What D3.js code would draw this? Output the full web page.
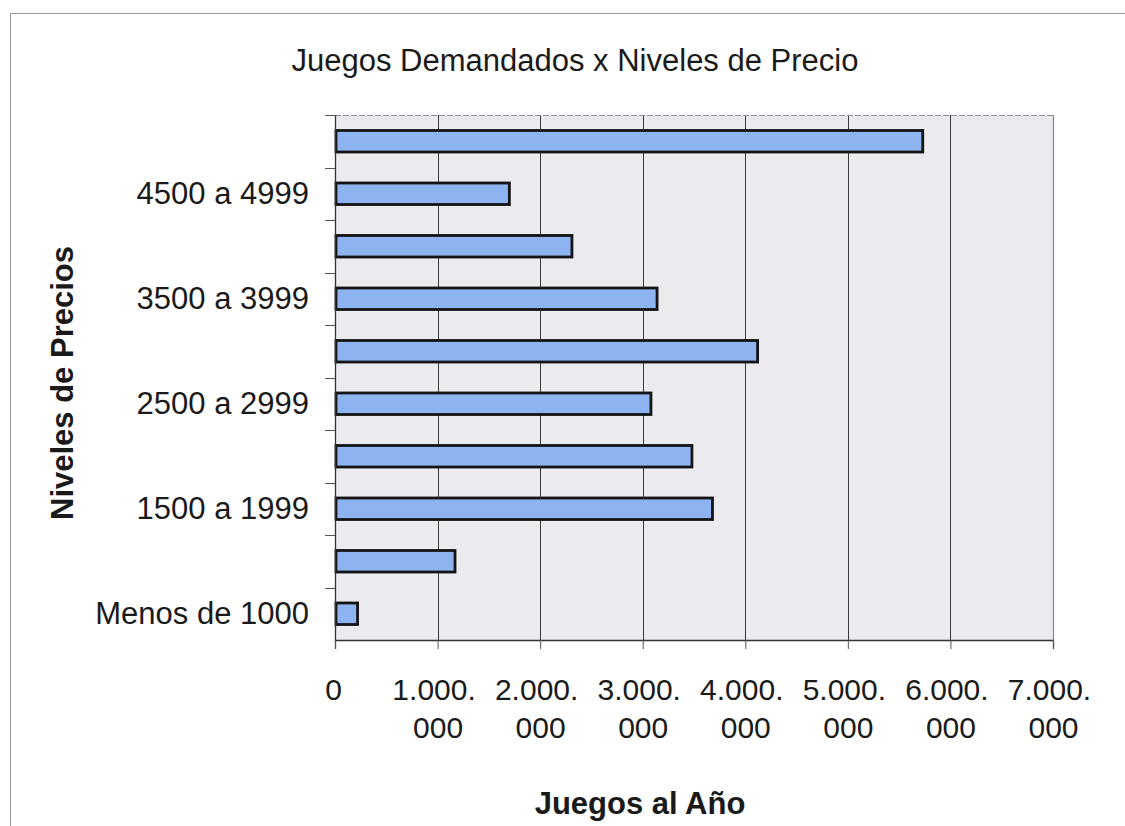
<!DOCTYPE html>
<html>
<head>
<meta charset="utf-8">
<script src="https://cdn.jsdelivr.net/npm/d3@7"></script>
<style>
  html, body { margin: 0; padding: 0; background: #fff; }
  svg { display: block; font-family: "Liberation Sans", Arial, sans-serif; }
</style>
</head>
<body>
<svg id="chart" width="1125" height="826"></svg>
<script>
// ---- data ----
const categories = ["Menos de 1000", "1000 a 1499", "1500 a 1999", "2000 a 2499", "2500 a 2999",
                    "3000 a 3499", "3500 a 3999", "4000 a 4499", "4500 a 4999", "5000 a 5499"];
const values = [220000, 1170000, 3680000, 3480000, 3080000, 4120000, 3140000, 2310000, 1700000, 5730000];
const shownLabels = ["Menos de 1000", "1500 a 1999", "2500 a 2999", "3500 a 3999", "4500 a 4999"];
const xTickValues = [0, 1000000, 2000000, 3000000, 4000000, 5000000, 6000000, 7000000];
const xTickLabels = [["0"], ["1.000.", "000"], ["2.000.", "000"], ["3.000.", "000"], ["4.000.", "000"],
                     ["5.000.", "000"], ["6.000.", "000"], ["7.000.", "000"]];
const chartTitle = "Juegos Demandados x Niveles de Precio";
const xTitle = "Juegos al Año";
const yTitle = "Niveles de Precios";

// ---- layout ----
const svg = d3.select("#chart");
const pLeft = 335, pRight = 1053, pTop = 115, pBottom = 640;

const x = d3.scaleLinear().domain([0, 7000000]).range([pLeft, pRight]);
const y = d3.scaleBand().domain(categories.slice().reverse()).range([pTop, pBottom])
  .paddingInner(0.59).paddingOuter(0.295);

// outer frame (partial, as in scan)
svg.append("line").attr("x1", 10).attr("x2", 1125).attr("y1", 13.5).attr("y2", 13.5)
  .attr("stroke", "#9a9a9a").attr("stroke-width", 1);
svg.append("line").attr("x1", 10.5).attr("x2", 10.5).attr("y1", 13).attr("y2", 826)
  .attr("stroke", "#9a9a9a").attr("stroke-width", 1);

// plot area background
svg.append("rect").attr("x", pLeft).attr("y", pTop).attr("width", pRight - pLeft).attr("height", pBottom - pTop)
  .attr("fill", "#eaeaef");

// gridlines
svg.append("g").selectAll("line").data(xTickValues.filter(v => v > 0 && v < 7000000)).join("line")
  .attr("x1", d => Math.round(x(d)) + 0.5).attr("x2", d => Math.round(x(d)) + 0.5)
  .attr("y1", pTop).attr("y2", pBottom)
  .attr("stroke", "#3a3a3a").attr("stroke-width", 1);

// plot border top & right
svg.append("line").attr("x1", pLeft).attr("x2", pRight).attr("y1", pTop + 0.5).attr("y2", pTop + 0.5)
  .attr("stroke", "#8a8a8a").attr("stroke-width", 1.2).attr("stroke-dasharray", "6,2");
svg.append("line").attr("x1", pRight + 0.5).attr("x2", pRight + 0.5).attr("y1", pTop).attr("y2", pBottom)
  .attr("stroke", "#8a8a8a").attr("stroke-width", 1.2);

// bars
svg.append("g").selectAll("rect").data(categories).join("rect")
  .attr("x", x(0) + 1)
  .attr("y", d => y(d))
  .attr("width", (d, i) => x(values[i]) - x(0) - 1)
  .attr("height", y.bandwidth())
  .attr("fill", "#8db4f0")
  .attr("stroke", "#141414")
  .attr("stroke-width", 2.8);

// x axis
const xAxis = d3.axisBottom(x).tickValues(xTickValues).tickSize(9).tickFormat("");
const gx = svg.append("g").attr("transform", `translate(0,${pBottom})`).call(xAxis);
gx.select(".domain").attr("stroke", "#333").attr("stroke-width", 1.3);
gx.selectAll(".tick line").attr("stroke", "#555");
gx.selectAll(".tick").each(function(d, i) {
  const t = d3.select(this).append("text")
    .attr("fill", "#1a1a1a").attr("font-size", 30).attr("text-anchor", "middle");
  xTickLabels[i].forEach((s, j) => {
    t.append("tspan").attr("x", i === 0 ? -2 : (j === 0 ? -4 : 0)).attr("y", 60 + j * 38).text(s);
  });
});

// y axis
const yAxis = d3.axisLeft(y).tickSize(0).tickPadding(26)
  .tickFormat(d => shownLabels.includes(d) ? d : "");
const gy = svg.append("g").attr("transform", `translate(${pLeft},0)`).call(yAxis);
gy.select(".domain").attr("stroke", "#333").attr("stroke-width", 1.3);
gy.selectAll(".tick text").attr("font-size", 31).attr("fill", "#1a1a1a");
// y tick marks at band boundaries
const step = y.step();
const boundaries = d3.range(categories.length).map(i => pTop + i * step);
svg.append("g").selectAll("line").data(boundaries).join("line")
  .attr("x1", pLeft - 10).attr("x2", pLeft)
  .attr("y1", d => Math.round(d) + 0.5).attr("y2", d => Math.round(d) + 0.5)
  .attr("stroke", "#555").attr("stroke-width", 1);

// titles
svg.append("text").attr("x", 575).attr("y", 71).attr("text-anchor", "middle")
  .attr("font-size", 31).attr("fill", "#1a1a1a").text(chartTitle);
svg.append("text").attr("x", 640).attr("y", 814).attr("text-anchor", "middle")
  .attr("font-size", 31).attr("font-weight", "bold").attr("fill", "#1a1a1a").text(xTitle);
svg.append("text").attr("transform", "translate(73,383) rotate(-90)").attr("text-anchor", "middle")
  .attr("font-size", 31).attr("font-weight", "bold").attr("fill", "#1a1a1a").text(yTitle);
</script>
</body>
</html>
